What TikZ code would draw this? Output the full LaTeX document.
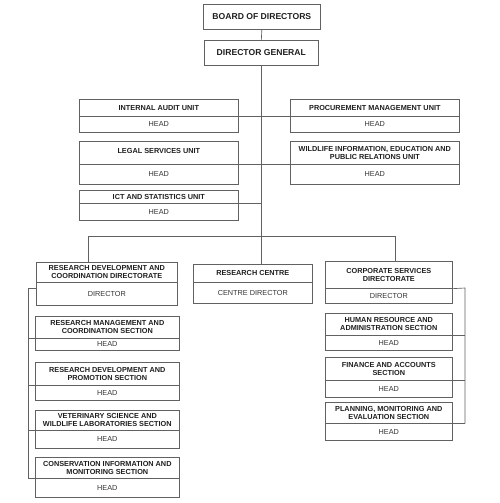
\documentclass[tikz,border=0pt]{standalone}
\usepackage{fontspec}
\setmainfont{Liberation Sans}
\begin{document}
\begin{tikzpicture}[x=1pt,y=-1pt,
  ln/.style={draw=black!62,line width=0.65pt},
  topbox/.style={ln,inner sep=0pt,font=\fontsize{8.6}{10}\selectfont\bfseries,text=black!88,anchor=north west},
  tbox/.style={ln,inner sep=0pt,align=center,font=\fontsize{7.3}{8.3}\selectfont\bfseries,text=black!88,anchor=north west},
  bbox/.style={ln,inner sep=0pt,align=center,font=\fontsize{7.3}{8.3}\selectfont,text=black!80,anchor=north west},
  conn/.style={ln}]
\useasboundingbox (0,0) rectangle (500,503);
\newcommand\orgbox[8]{%
  \node[tbox,minimum width={(#4-#2)*1pt},minimum height={(#5-#3)*1pt}] (#1t) at (#2,#3) {#7};
  \node[bbox,minimum width={(#4-#2)*1pt},minimum height={(#6-#5)*1pt}] (#1b) at (#2,#5) {#8};}
\node[topbox,minimum width=117pt,minimum height=25pt] (bod) at (203,4) {BOARD OF DIRECTORS};
\node[topbox,minimum width=114pt,minimum height=25pt] (dg) at (204,40) {DIRECTOR GENERAL};
\orgbox{ia}{79}{99}{238}{116}{132}{INTERNAL AUDIT UNIT}{HEAD}
\orgbox{ls}{79}{141}{238}{164}{184}{\raisebox{4pt}{LEGAL SERVICES UNIT}}{HEAD}
\orgbox{ict}{79}{190}{238}{203}{220}{ICT AND STATISTICS UNIT}{HEAD}
\orgbox{pm}{290}{99}{459}{116}{132}{PROCUREMENT MANAGEMENT UNIT}{HEAD}
\orgbox{wi}{290}{141}{459}{164}{184}{WILDLIFE INFORMATION, EDUCATION AND\\PUBLIC RELATIONS UNIT}{HEAD}
\orgbox{rdc}{36}{262}{177}{282}{305}{RESEARCH DEVELOPMENT AND\\COORDINATION DIRECTORATE}{DIRECTOR}
\orgbox{rc}{193}{264}{312}{282}{303}{RESEARCH CENTRE}{CENTRE DIRECTOR}
\orgbox{cs}{325}{261}{452}{288}{303}{CORPORATE SERVICES\\DIRECTORATE}{DIRECTOR}
\orgbox{rmc}{35}{316}{179}{338}{350}{RESEARCH MANAGEMENT AND\\COORDINATION SECTION}{HEAD}
\orgbox{rdp}{35}{362}{179}{385}{400}{RESEARCH DEVELOPMENT AND\\PROMOTION SECTION}{HEAD}
\orgbox{vet}{35}{410}{179}{430}{448}{VETERINARY SCIENCE AND\\WILDLIFE LABORATORIES SECTION}{HEAD}
\orgbox{con}{35}{457}{179}{478}{497}{CONSERVATION INFORMATION AND\\MONITORING SECTION}{HEAD}
\orgbox{hr}{325}{313}{452}{335}{350}{HUMAN RESOURCE AND\\ADMINISTRATION SECTION}{HEAD}
\orgbox{fa}{325}{357}{452}{380}{397}{FINANCE AND ACCOUNTS\\SECTION}{HEAD}
\orgbox{pme}{325}{402}{452}{423}{440}{PLANNING, MONITORING AND\\EVALUATION SECTION}{HEAD}
% main connectors
\coordinate (bl) at (88,236);
\coordinate (br) at (395,236);
\coordinate (bm) at (dg.south |- bl);
\draw[conn] (bod.south) -- (dg.north);
\draw[conn] (dg.south) -- (bm);
\draw[conn] (bl) -- (br);
\draw[conn] (bl) -- (bl |- rdct.north);
\draw[conn] (bm) -- (bm |- rct.north);
\draw[conn] (br) -- (br |- cst.north);
\foreach \n in {ia,ls,ict} \draw[conn] (\n t.south east) -- (\n t.south east -| dg.south);
\foreach \n in {pm,wi} \draw[conn] (\n t.south west) -- (\n t.south west -| dg.south);
% left spine
\coordinate (lsp) at (28,288);
\draw[conn] (lsp -| rdcb.west) -- (lsp) -- (lsp |- cont.south);
\foreach \n in {rmc,rdp,vet,con} \draw[conn] (\n t.south west) -- (\n t.south west -| lsp);
% right spine
\coordinate (rsp) at (465,288);
\draw[conn] (cst.south east) -- (rsp) -- (rsp |- pmet.south);
\foreach \n in {hr,fa,pme} \draw[conn] (\n t.south east) -- (\n t.south east -| rsp);
\end{tikzpicture}
\end{document}
